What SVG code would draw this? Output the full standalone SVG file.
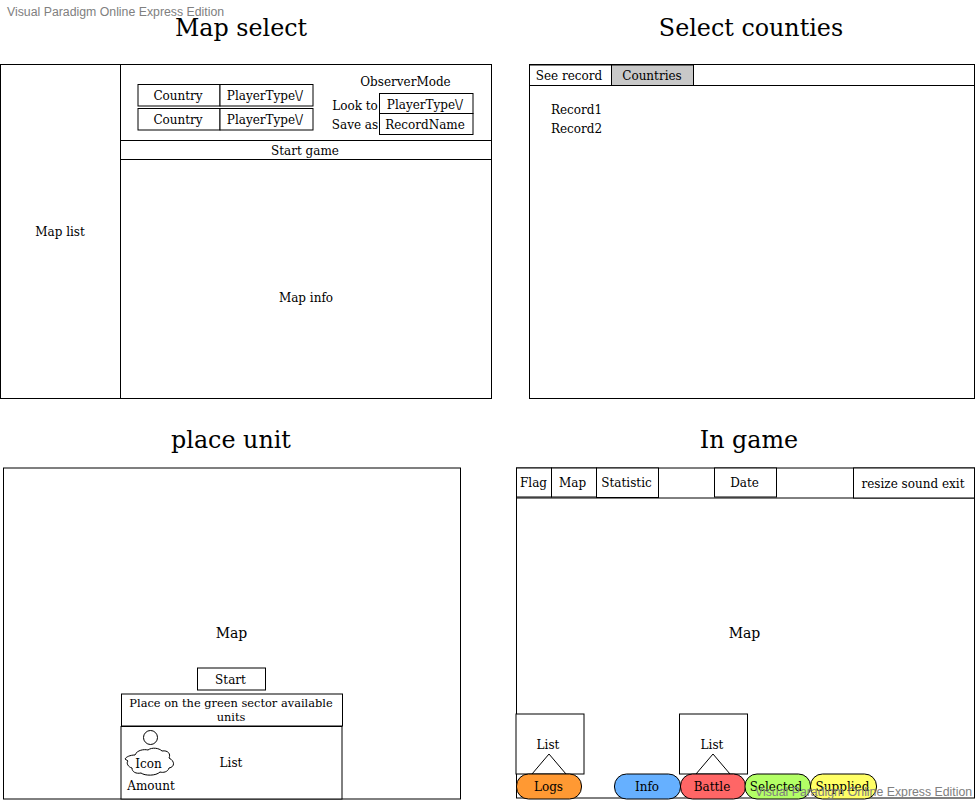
<svg xmlns="http://www.w3.org/2000/svg" width="977" height="802" viewBox="0 0 977 802">
<style>
text{font-family:"DejaVu Serif",serif;font-size:12px;fill:#000;text-anchor:middle}
.t{font-size:23.800px}
.m{font-size:14px}
.w{font-family:"Liberation Sans",sans-serif;font-size:12.3px;fill:#808080;text-anchor:start}
rect,path.s,circle{fill:#fff;stroke:#000;stroke-width:1}
line{stroke:#000;stroke-width:1}
</style>
<rect width="977" height="802" style="fill:#fff;stroke:none"/>
<g id="map-select">
<text class="t" x="241" y="36">Map select</text>
<rect x="0.5" y="64.5" width="491" height="334"/>
<line x1="120.5" y1="64.5" x2="120.5" y2="398.5"/>
<line x1="120.5" y1="140.5" x2="491.5" y2="140.5"/>
<line x1="120.5" y1="159.5" x2="491.5" y2="159.5"/>
<text x="60" y="236">Map list</text>
<text x="306" y="302">Map info</text>
<text x="305" y="155">Start game</text>
<rect x="138" y="84.500" width="82" height="21.500"/><text x="178" y="100">Country</text>
<rect x="220" y="84.500" width="93" height="21.500"/><text x="265" y="100">PlayerType\/</text>
<rect x="138" y="108.500" width="82" height="21.500"/><text x="178" y="124">Country</text>
<rect x="220" y="108.500" width="93" height="21.500"/><text x="265" y="124">PlayerType\/</text>
<text x="405.500" y="86">ObserverMode</text>
<text x="355" y="110">Look to</text>
<text x="355" y="129">Save as</text>
<rect x="379.500" y="93.500" width="93.500" height="20"/><text x="425" y="109">PlayerType\/</text>
<rect x="379.500" y="113.500" width="93.500" height="21"/><text x="425" y="129">RecordName</text>
</g>
<g id="select-counties">
<text class="t" x="751" y="36">Select counties</text>
<rect x="529.500" y="64.500" width="445" height="334"/>
<line x1="529.500" y1="85.500" x2="974.500" y2="85.500"/>
<rect x="529.500" y="65" width="82" height="20.500"/><text x="569" y="80">See record</text>
<rect x="611.500" y="65" width="82" height="20.500" style="fill:#c8c8c8"/><text x="652" y="80">Countries</text>
<text x="576.500" y="114">Record1</text>
<text x="576.500" y="133">Record2</text>
</g>
<g id="place-unit">
<text class="t" x="231" y="448">place unit</text>
<rect x="3.500" y="468" width="457" height="331"/>
<text class="m" x="231.500" y="638">Map</text>
<rect x="197.500" y="668" width="68" height="22"/><text x="230.500" y="684">Start</text>
<rect x="121.500" y="694" width="221" height="32"/>
<text x="231" y="707" style="font-size:11.400px">Place on the green sector available</text>
<text x="231" y="721" style="font-size:11.400px">units</text>
<rect x="121" y="726.500" width="221" height="72.500"/>
<circle cx="150.500" cy="737.500" r="7"/>
<path class="s" d="M135 755c2-5 9-6 13-5 4-3 11-2 14 1 6-1 9 3 7 7 6 3 6 9 0 10-1 4-6 5-9 4-4 4-15 4-19 1-5 1-9-1-9-5-4-1-6-5-4-7l-3-2c1-2 5-4 10-4z"/>
<text x="148.500" y="768">Icon</text>
<text x="151" y="790">Amount</text>
<text x="231" y="767">List</text>
</g>
<g id="in-game">
<text class="t" x="749" y="448">In game</text>
<rect x="516.500" y="468" width="458" height="330"/>
<line x1="516.500" y1="498" x2="974.500" y2="498"/>
<rect x="516.500" y="468" width="35" height="29"/><text x="533.500" y="487">Flag</text>
<rect x="551.500" y="468" width="45" height="29"/><text x="572.500" y="487">Map</text>
<rect x="596.500" y="468" width="62" height="29.500"/><text x="626.500" y="487">Statistic</text>
<rect x="714.500" y="468" width="62" height="29"/><text x="744.500" y="487">Date</text>
<rect x="853.500" y="468" width="121" height="30"/><text x="913" y="488">resize sound exit</text>
<text class="m" x="744.500" y="638">Map</text>
<rect x="516" y="714" width="68" height="60"/><text x="548" y="749">List</text>
<rect x="679.500" y="714" width="68" height="60"/><text x="712" y="749">List</text>
<path class="s" d="M532 774l17-20 17 20z"/>
<path class="s" d="M696 774l17-20 17 20z"/>
<rect x="516.500" y="774" width="65" height="25" rx="12" style="fill:#ff9933"/><text x="548.500" y="791">Logs</text>
<rect x="614.500" y="774" width="66" height="25" rx="12" style="fill:#66b0ff"/><text x="647" y="791">Info</text>
<rect x="680.500" y="774" width="65" height="25" rx="12" style="fill:#ff6666"/><text x="712" y="791">Battle</text>
<rect x="745" y="774" width="65.500" height="25" rx="12" style="fill:#b3ff66"/><text x="776" y="791">Selected</text>
<rect x="810.500" y="774" width="66" height="25" rx="12" style="fill:#ffff66"/><text x="842.500" y="791">Supplied</text>
</g>
<g id="connectors"></g>
<text class="w" x="7" y="16">Visual Paradigm Online Express Edition</text>
<text class="w" x="755" y="796">Visual Paradigm Online Express Edition</text>
</svg>
